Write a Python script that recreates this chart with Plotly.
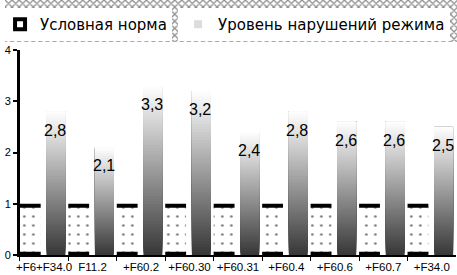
import plotly.graph_objects as go

categories = ["+F6+F34.0", "F11.2", "+F60.2", "+F60.30", "+F60.31", "+F60.4", "+F60.6", "+F60.7", "+F34.0"]
norm_values = [1, 1, 1, 1, 1, 1, 1, 1, 1]
violation_values = [2.8, 2.1, 3.3, 3.2, 2.4, 2.8, 2.6, 2.6, 2.5]
value_labels = ["2,8", "2,1", "3,3", "3,2", "2,4", "2,8", "2,6", "2,6", "2,5"]
series_names = ["Условная норма", "Уровень нарушений режима"]

FONT = "Liberation Sans, Arial, sans-serif"
LEG_FONT = "DejaVu Sans, sans-serif"
W, H = 457, 275
MB = 20
PH = H - MB

fig = go.Figure()

# checkered legend band
fig.add_trace(go.Bar(
    x=[0], y=[1], width=1, xaxis="x2", yaxis="y2",
    marker=dict(color="white", line=dict(width=0),
                pattern=dict(shape="x", size=5, solidity=0.45, fgcolor="#1a1a1a", bgcolor="white")),
    showlegend=False, hoverinfo="skip"))

NORM_OFF, NORM_W = -0.5, 0.43
GRAD_OFF, GRAD_W = 0.05, 0.39
cap = 0.08

# norm bars: dotted white body
fig.add_trace(go.Bar(
    x=categories, y=norm_values, offset=NORM_OFF, width=NORM_W,
    marker=dict(color="white", line=dict(width=0),
                pattern=dict(shape=".", size=9, solidity=0.07, fgcolor="black", bgcolor="white")),
    showlegend=False, hoverinfo="skip"))
# black top and bottom edges
fig.add_trace(go.Bar(
    x=categories, y=[cap] * len(norm_values), base=[v - cap for v in norm_values],
    offset=NORM_OFF, width=NORM_W, marker=dict(color="black", line=dict(width=0)),
    showlegend=False, hoverinfo="skip"))
fig.add_trace(go.Bar(
    x=categories, y=[cap * 0.8] * len(norm_values), base=[0] * len(norm_values),
    offset=NORM_OFF, width=NORM_W, marker=dict(color="black", line=dict(width=0)),
    showlegend=False, hoverinfo="skip"))

# gradient bars: overlapping layers, each lighter one starting higher
N = 60
for k in range(N):
    f = k / N
    g = int(round(55 + 200 * (k + 0.5) / N))
    fig.add_trace(go.Bar(
        x=categories,
        y=[v * (1 - f) for v in violation_values],
        base=[v * f for v in violation_values],
        offset=GRAD_OFF, width=GRAD_W,
        marker=dict(color=f"rgb({g},{g},{g})", line=dict(width=0)),
        showlegend=False, hoverinfo="skip"))

# legend entries
fig.add_trace(go.Scatter(
    x=[categories[0]], y=[None], mode="markers", name=series_names[0],
    marker=dict(symbol="square", size=10, color="white", line=dict(color="black", width=4)),
    legend="legend"))
fig.add_trace(go.Scatter(
    x=[categories[0]], y=[None], mode="markers", name=series_names[1],
    marker=dict(symbol="square", size=8, color="#dcdcdc", line=dict(width=0)),
    legend="legend2"))

# value labels
grad_center_px = (GRAD_OFF + GRAD_W / 2) * (441 / len(categories))
for c, v, t in zip(categories, violation_values, value_labels):
    fig.add_annotation(x=c, y=v, text=t, showarrow=False, xshift=grad_center_px - 1,
                       yanchor="top", yshift=-8, font=dict(size=16, color="black", family=FONT))

x0 = 15 / W
x1 = 456 / W
y_top = (PH - 50) / PH
band_bottom = (PH - 42) / PH

fig.update_layout(
    width=W, height=H,
    margin=dict(l=0, r=0, t=0, b=MB),
    paper_bgcolor="white", plot_bgcolor="white",
    barmode="overlay",
    font=dict(family=FONT, color="black"),
    xaxis=dict(domain=[x0, x1], type="category", range=[-0.5, len(categories) - 0.5],
               tickson="boundaries", ticks="outside", ticklen=4, tickcolor="black",
               showline=True, linecolor="black", linewidth=1.5, showgrid=False, tickangle=0,
               tickfont=dict(size=11.5, family=FONT), automargin=False, fixedrange=True),
    yaxis=dict(domain=[0, y_top], range=[0, 4], tickvals=[0, 1, 2, 3, 4],
               ticks="outside", ticklen=4, tickcolor="black", tickwidth=1.5,
               showline=True, linecolor="black", linewidth=2.5, showgrid=False,
               zeroline=False, tickfont=dict(size=11, family=FONT), automargin=False),
    xaxis2=dict(domain=[0, 1], anchor="y2", range=[-0.5, 0.5], visible=False),
    yaxis2=dict(domain=[band_bottom, 1], anchor="x2", range=[0, 1], visible=False),
    legend=dict(x=-5 / W, y=1 - 8 / PH, xanchor="left", yanchor="top", bgcolor="white",
                borderwidth=0, font=dict(size=15, family=LEG_FONT), orientation="h"),
    legend2=dict(x=175 / W, y=1 - 8 / PH, xanchor="left", yanchor="top", bgcolor="white",
                 borderwidth=0, font=dict(size=15, family=LEG_FONT), orientation="h"),
    showlegend=True,
)

fig.write_html("out.html", config={"displayModeBar": False},
               post_script="document.body.style.margin='0';document.body.style.overflow='hidden';")
